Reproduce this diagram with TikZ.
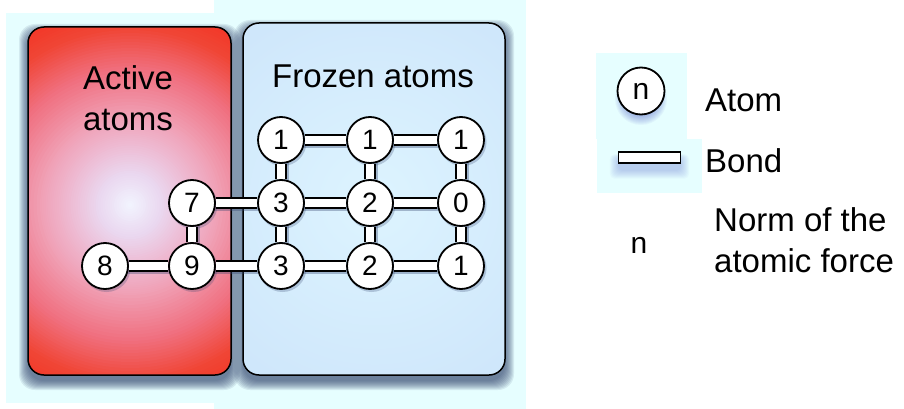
\documentclass[tikz,border=0pt]{standalone}
\usepackage{fontspec}
\setmainfont{Liberation Sans}
\definecolor{bgcyan}{HTML}{E6FEFF}
\definecolor{rG}{HTML}{F2F5FF}
\definecolor{rF}{HTML}{EAD8F0}
\definecolor{rE}{HTML}{EEB8D0}
\definecolor{rD}{HTML}{F0A0B5}
\definecolor{rC}{HTML}{F07080}
\definecolor{rB}{HTML}{F04535}
\definecolor{rA}{HTML}{F43020}
\definecolor{bA}{HTML}{DDF4FF}
\definecolor{bB}{HTML}{CCE4FA}
\definecolor{bC}{HTML}{C0D6F2}
\definecolor{shadowc}{HTML}{33446E}
\definecolor{glowc}{HTML}{4A5AC8}
\pgfdeclareradialshading{blueglow}{\pgfpoint{0bp}{0bp}}{color(0bp)=(bA); color(25bp)=(bB); color(50bp)=(bC)}
\pgfdeclarelayer{bgl}
\pgfdeclarelayer{shl}
\pgfdeclarelayer{bdl}
\pgfsetlayers{bgl,shl,bdl,main}
\begin{document}
\begin{tikzpicture}[x=1pt,y=-1pt,
  atom/.style={circle, draw=black, line width=1.8pt, fill=white, minimum size=46pt, inner sep=0pt, font=\fontsize{28}{28}\selectfont},
  bond/.style={draw=black, line width=1.5pt, double=white, double distance=8.5pt},
  lab/.style={font=\fontsize{33}{41}\selectfont, inner sep=0pt},
  boxline/.style={draw=black, line width=1.5pt, rounded corners=16pt}]
\useasboundingbox (0,0) rectangle (904,409);

% atoms
\node[atom] (a8) at (105,266) {8};
\node[atom] (a9) at (192,266) {9};
\node[atom] (a7) at (192,203) {7};
\node[atom] (c1) at (281,140) {1};
\node[atom] (c2) at (281,203) {3};
\node[atom] (c3) at (281,266) {3};
\node[atom] (d1) at (370,140) {1};
\node[atom] (d2) at (370,203) {2};
\node[atom] (d3) at (370,266) {2};
\node[atom] (e1) at (461,140) {1};
\node[atom] (e2) at (461,203) {0};
\node[atom] (e3) at (461,266) {1};

% box labels
\node[lab, align=center] (tact) at (128,98) {Active\\atoms};
\node[lab] (tfro) at (373,76) {Frozen atoms};

% legend
\node[atom, minimum size=47pt, font=\fontsize{30}{30}\selectfont] (la) at (641,91) {n};
\node[draw=black, line width=1.4pt, fill=white, minimum width=62pt, minimum height=11pt, inner sep=0pt] (lb) at (649.5,157.5) {};
\node[lab, anchor=base west] (tatom) at (705,112) {Atom};
\node[lab, anchor=base west] (tbond) at (705,172) {Bond};
\node[font=\fontsize{30}{30}\selectfont, inner sep=0pt] (tn) at (639,245) {n};
\node[lab, anchor=west, align=left] (tnorm) at (714,240) {Norm of the\\atomic force};

\begin{pgfonlayer}{bgl}
  \fill[bgcyan] (6,13) rectangle (214,403);
  \fill[bgcyan] (214,0) rectangle (526,409);
  \fill[bgcyan] (596,53) rectangle (687,139);
  \fill[bgcyan] (597,139) rectangle (702,193);
  \foreach \s in {0,...,9} {
    \fill[shadowc, opacity=0.1, rounded corners=16pt] (28-\s,33-\s) rectangle (231+\s,381+\s);
    \fill[shadowc, opacity=0.1, rounded corners=16pt] (243-\s,29-\s) rectangle (505+\s,381+\s);
  }
  \begin{scope}
    \clip[rounded corners=16pt] (28,27) rectangle (231,375);
    \fill[rA] (28,27) rectangle (231,375);
    \foreach \ro/\ri/\co/\ci in {215/178/rA/rB, 178/136/rB/rC, 136/90/rC/rD, 90/64/rD/rE, 64/32/rE/rF, 32/0/rF/rG} {
      \foreach \k in {0,...,13} {
        \pgfmathsetmacro\rr{\ro-(\ro-\ri)*\k/14}
        \pgfmathsetmacro\pp{100*\k/14}
        \fill[\ci!\pp!\co] (130,205) circle (\rr);
      }
    }
  \end{scope}
  \draw[boxline] (28,27) rectangle (231,375);
  \begin{scope}
    \clip[rounded corners=16pt] (243,23) rectangle (505,375);
    \fill[shading=blueglow] (374,200) circle (250);
  \end{scope}
  \draw[boxline] (243,23) rectangle (505,375);
\end{pgfonlayer}

\begin{pgfonlayer}{shl}
  \foreach \u/\v in {c1/d1,d1/e1,a7/c2,c2/d2,d2/e2,a8/a9,a9/c3,c3/d3,d3/e3,c1/c2,d1/d2,e1/e2,c2/c3,d2/d3,e2/e3,a7/a9}
    \draw[shadowc, opacity=0.35, line width=11pt] ([shift={(2,2)}]\u.center) -- ([shift={(2,2)}]\v.center);
  \foreach \n in {a8,a9,a7,c1,c2,c3,d1,d2,d3,e1,e2,e3}
    \fill[shadowc, opacity=0.25] ([shift={(1.5,2)}]\n.center) circle (24);
  \foreach \s in {0,...,8} {
    \fill[glowc, opacity=0.05] ([shift={(0,8)}]la.center) circle (18+\s);
    \fill[glowc, opacity=0.035, rounded corners=5pt] ([shift={(-\s,7-0.5*\s)}]lb.north west) rectangle ([shift={(\s,7+\s)}]lb.south east);
  }
\end{pgfonlayer}

\begin{pgfonlayer}{bdl}
  \foreach \u/\v in {c1/d1,d1/e1,a7/c2,c2/d2,d2/e2,a8/a9,a9/c3,c3/d3,d3/e3,c1/c2,d1/d2,e1/e2,c2/c3,d2/d3,e2/e3,a7/a9}
    \draw[bond] (\u) -- (\v);
\end{pgfonlayer}
\end{tikzpicture}
\end{document}
